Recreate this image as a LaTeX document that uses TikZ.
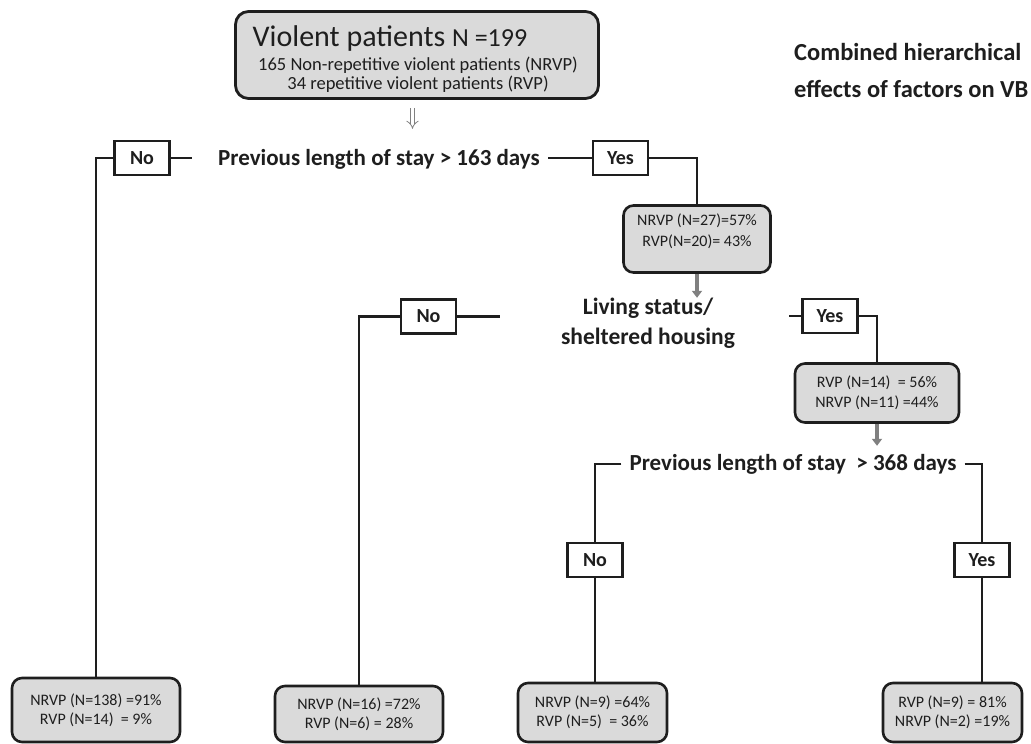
\documentclass[tikz,border=0pt]{standalone}
\usepackage{fontspec}
\setmainfont{Carlito}
\usetikzlibrary{arrows.meta}
\definecolor{boxgray}{RGB}{218,218,218}
\definecolor{ink}{RGB}{30,30,30}
\definecolor{arrgray}{RGB}{128,128,128}
\begin{document}
\begin{tikzpicture}[x=1pt,y=-1pt,
  conn/.style={draw=ink,line width=2.7pt},
  resbox/.style={draw=ink,line width=2.6pt,rounded corners=10pt,fill=boxgray,align=center,
    font=\fontsize{16}{19.5}\selectfont,text=ink,inner sep=0pt},
  restext/.style={align=center,font=\fontsize{16}{21}\selectfont,text=ink,inner sep=0pt},
  ynbox/.style={draw=ink,line width=2.4pt,fill=white,font=\bfseries\fontsize{20}{22}\selectfont,
    text=ink,inner sep=0pt,minimum width=55pt,minimum height=34pt},
  qtext/.style={font=\bfseries\fontsize{23}{30}\selectfont,align=center,text=ink},
  grayarr/.style={draw=arrgray,line width=4pt,-{Triangle[width=10pt,length=7pt]}},
  hollowarr/.style={draw=arrgray,double=white,double distance=3.5pt,line width=0.8pt,-{Implies}},
]
\useasboundingbox (0,0) rectangle (1031,744);

% title (base anchor = baseline of the last line)
\node[anchor=base west,font=\bfseries\fontsize{24.5}{37}\selectfont,align=left,text=ink,inner sep=0pt]
  (title) at (794,97) {Combined hierarchical\\effects of factors on VB};

% top box
\node[draw=ink,line width=2.8pt,rounded corners=13pt,fill=boxgray,minimum width=363pt,
  minimum height=87pt,inner sep=0pt] (top) at (417,55) {};
\node[anchor=base,text=ink] (t1) at (390,46) {\fontsize{30}{34}\selectfont Violent patients \fontsize{26}{30}\selectfont N =199};
\node[anchor=base,font=\fontsize{18.5}{21}\selectfont,text=ink] (t2) at (418,70) {165 Non-repetitive violent patients (NRVP)};
\node[anchor=base,font=\fontsize{18.5}{21}\selectfont,text=ink] (t3) at (418,89) {34 repetitive violent patients (RVP)};
\draw[hollowarr] ([xshift=-4.5pt,yshift=-8pt]top.south) -- ++(0,21);

% level 1
\node[qtext,anchor=base,inner xsep=8pt] (q1) at (379,165) {Previous length of stay > 163 days};
\node[ynbox] (no1) at (142,158) {No};
\node[ynbox] (yes1) at (620.5,158) {Yes};
\coordinate (no1end) at (192,158);

% result boxes
\node[resbox,minimum width=147pt,minimum height=67pt] (r27) at (697,239) {};
\node[restext] (r27t) at ([yshift=8pt]r27.center) {NRVP (N=27)=57\%\\RVP(N=20)= 43\%};
\node[resbox,minimum width=164pt,minimum height=59pt] (r14) at (877,393) {RVP (N=14)\ \ = 56\%\\NRVP (N=11) =44\%};
\node[resbox,minimum width=168pt,minimum height=64pt] (b1) at (96,710) {NRVP (N=138) =91\%\\RVP (N=14)\ \ = 9\%};
\node[resbox,minimum width=168pt,minimum height=56pt] (b2) at (359,714) {NRVP (N=16) =72\%\\RVP (N=6) = 28\%};
\node[resbox,minimum width=149pt,minimum height=59pt] (b3) at (592.5,712.5) {NRVP (N=9) =64\%\\RVP (N=5)\ \ = 36\%};
\node[resbox,minimum width=139pt,minimum height=59pt] (b4) at (952.5,712.5) {RVP (N=9) = 81\%\\NRVP (N=2) =19\%};

% level 2
\node[qtext,anchor=base,font=\bfseries\fontsize{23.5}{30}\selectfont] (q2) at (648,344) {Living status/\\sheltered housing};
\node[ynbox] (no2) at (428.5,316.5) {No};
\node[ynbox] (yes2) at (830,316) {Yes};
\coordinate (no2end) at (500,316.5);
\coordinate (yes2start) at (789,316);

% level 3
\node[qtext,anchor=base,inner xsep=8pt] (q3) at (793,470) {Previous length of stay\ \ > 368 days};
\node[ynbox] (no3) at (595,560) {No};
\node[ynbox] (yes3) at (982,560) {Yes};

% connectors
\draw[conn] (no1.west) -| (b1.north);
\draw[conn] (no1.east) -- (no1end);
\draw[conn] (yes1.west -| q1.east) -- (yes1.west);
\draw[conn] (yes1.east) -| (r27.north);
\draw[grayarr] (r27.south) -- ++(0,24);

\draw[conn] (no2.west) -| (b2.north);
\draw[conn] (no2.east) -- (no2end);
\draw[conn] (yes2start) -- (yes2.west);
\draw[conn] (yes2.east) -| (r14.north);
\draw[grayarr] (r14.south) -- ++(0,22);

\draw[conn] (q3.west) -| (no3.north);
\draw[conn] (q3.east) -| (yes3.north);
\draw[conn] (no3.south) -- (no3.south |- b3.north);
\draw[conn] (yes3.south) -- (yes3.south |- b4.north);
\end{tikzpicture}
\end{document}
